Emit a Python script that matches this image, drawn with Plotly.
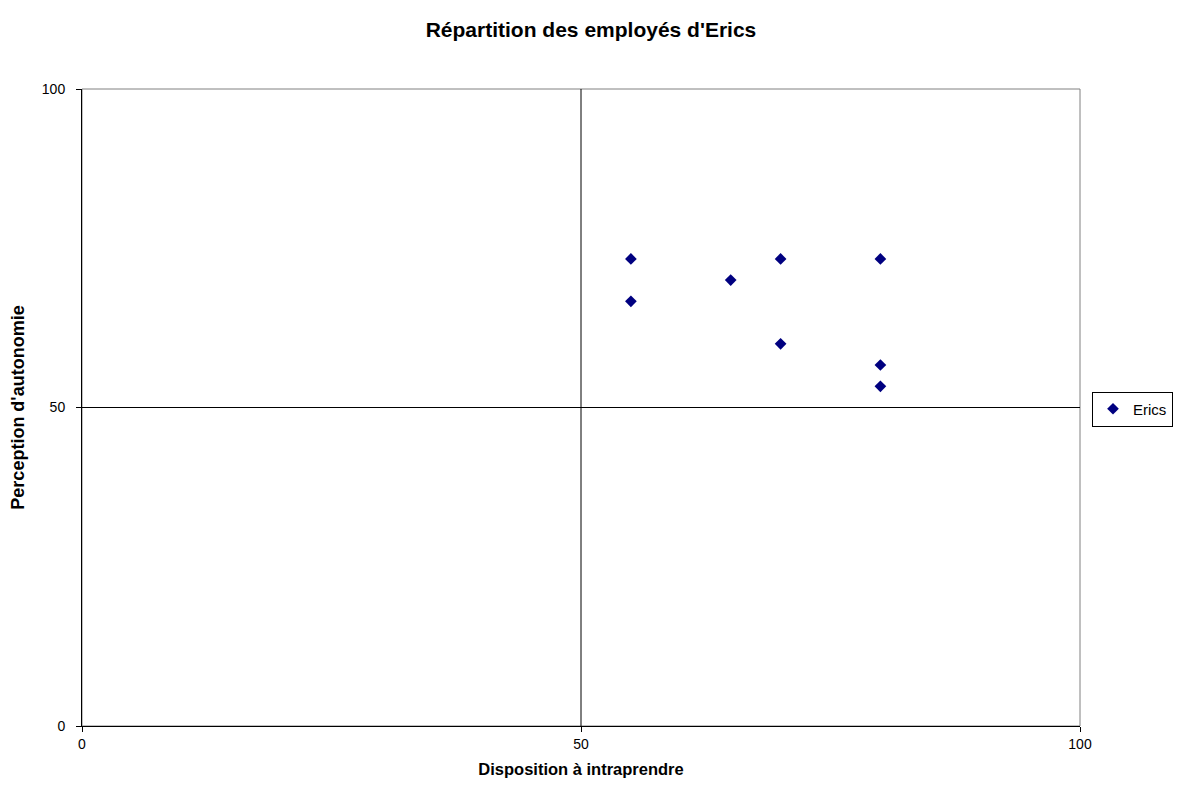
import plotly.graph_objects as go

series_name = "Erics"
x_vals = [55, 55, 65, 70, 70, 80, 80, 80]
y_vals = [73.33, 66.67, 70, 73.33, 60, 73.33, 56.67, 53.33]
tick_vals = [0, 50, 100]
tick_text = ["0", "50", "100"]

W, H = 1166, 774  # page has 8px body margin
fig = go.Figure()
fig.add_trace(go.Scatter(
    x=x_vals, y=y_vals, mode="markers", name=series_name,
    marker=dict(symbol="diamond", size=9, color="#000080"),
))

font = "Arial, Liberation Sans, sans-serif"
fig.update_layout(
    width=W, height=H,
    margin=dict(l=74, r=W - 1072, t=81, b=H - 718),
    paper_bgcolor="white", plot_bgcolor="white",
    font=dict(family=font, size=14, color="black"),
    title=dict(text="<b>Répartition des employés d'Erics</b>", x=0.5, xanchor="center",
               y=1 - 22 / H, yanchor="middle", font=dict(size=21)),
    showlegend=True,
    legend=dict(xref="container", yref="container", x=1084 / W, xanchor="left",
                y=1 - 401 / H, yanchor="middle", bordercolor="black", borderwidth=1,
                font=dict(size=15), itemwidth=30, tracegroupgap=0,
                bgcolor="white"),
    xaxis=dict(range=[0, 100], tickvals=tick_vals, ticktext=tick_text, showgrid=False, zeroline=False,
               showline=True, linecolor="black", linewidth=1, ticks="outside", ticklen=5, tickcolor="black",
               tickfont=dict(size=14), automargin=False,
               title=dict(text="<b>Disposition à intraprendre</b>", standoff=12, font=dict(size=16.5))),
    yaxis=dict(range=[0, 100], tickvals=tick_vals, ticktext=tick_text, showgrid=False, zeroline=False,
               showline=True, linecolor="black", linewidth=1, ticks="outside", ticklen=5, tickcolor="black",
               tickfont=dict(size=14), automargin=False, ticklabelstandoff=8,
               title=dict(text="<b>Perception d'autonomie</b>", standoff=14, font=dict(size=18))),
)
# plot area border
fig.add_shape(type="rect", xref="paper", yref="paper", x0=0, y0=0, x1=1, y1=1,
              line=dict(color="#808080", width=1), layer="below")
# quadrant lines
fig.add_shape(type="line", xref="x", yref="paper", x0=50, x1=50, y0=0, y1=1,
              line=dict(color="black", width=1), layer="below")
fig.add_shape(type="line", xref="paper", yref="y", x0=0, x1=1, y0=50, y1=50,
              line=dict(color="black", width=1), layer="below")

fig.write_html("out.html")
